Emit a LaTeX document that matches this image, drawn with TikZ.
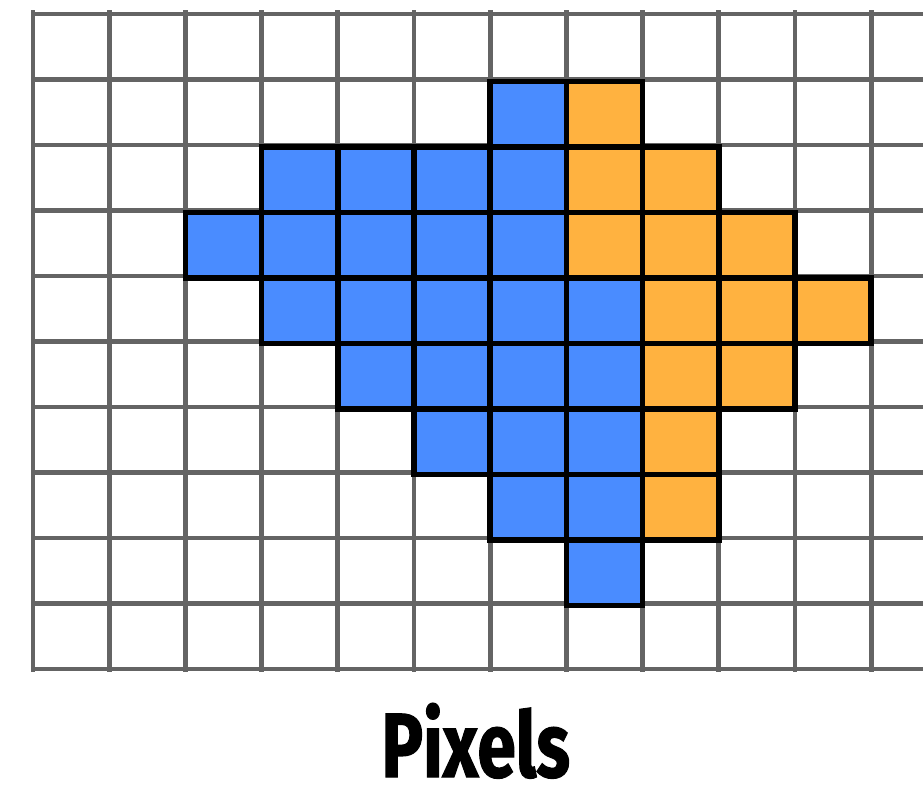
\documentclass[tikz,border=0pt]{standalone}
\usepackage{fontspec}
\newfontfamily\pixfont[FakeStretch=0.76, FakeBold=1.2]{Fira Sans}
\definecolor{pixblue}{RGB}{74,140,255}
\definecolor{pixorange}{RGB}{255,178,64}
\definecolor{gridgray}{RGB}{100,100,100}
\begin{document}
\begin{tikzpicture}[x=1.524cm, y=-1.31cm,
    gridline/.style={draw=gridgray, line width=2.7pt},
    bluepix/.style={fill=pixblue, draw=black, line width=3.1pt},
    orangepix/.style={fill=pixorange, draw=black, line width=3.1pt}]
\useasboundingbox (-0.433,-0.214) rectangle (11.68,11.847);

% Pixel grid
\foreach \x in {0,...,11} {
    \draw[gridline] (\x, -0.06) -- (\x, 10.05);
}
\foreach \y in {0,...,10} {
    \draw[gridline] (0, \y) -- (11.68, \y);
}

% Covered pixels, blue triangle
\foreach \c/\r in {6/1, 3/2, 4/2, 5/2, 6/2, 2/3, 3/3, 4/3, 5/3, 6/3,
                   3/4, 4/4, 5/4, 6/4, 7/4, 4/5, 5/5, 6/5, 7/5,
                   5/6, 6/6, 7/6, 6/7, 7/7, 7/8} {
    \draw[bluepix] (\c, \r+0.03) rectangle (\c+1, \r+1.03);
}

% Covered pixels, orange triangle
\foreach \c/\r in {7/1, 7/2, 8/2, 7/3, 8/3, 9/3, 8/4, 9/4, 10/4,
                   8/5, 9/5, 8/6, 8/7} {
    \draw[orangepix] (\c, \r+0.03) rectangle (\c+1, \r+1.03);
}

\node[anchor=base, inner sep=0pt, text depth=0pt,
      font=\pixfont\bfseries\fontsize{52}{52}\selectfont] (caption) at (5.81, 11.65) {Pixels};

\end{tikzpicture}
\end{document}
